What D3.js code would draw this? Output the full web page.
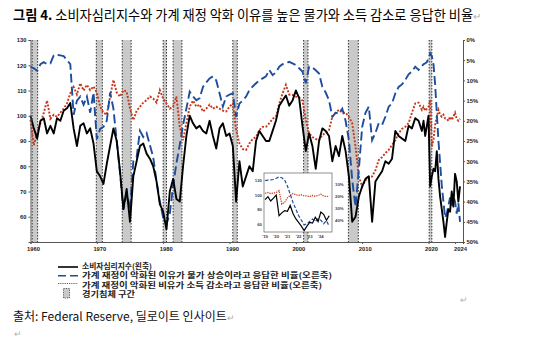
<!DOCTYPE html>
<html><head><meta charset="utf-8">
<script src="https://cdn.jsdelivr.net/npm/d3@7"></script>
<style>body{margin:0;background:#fff} svg{display:block}</style>
</head><body><svg id="c" width="557" height="340"></svg>
<script>
// ---- data ----
const dates = [
1960,1960.5,1961,1961.5,1962,1962.5,1963,1963.5,1964,1964.5,1965,1965.5,1966,1966.5,1967,1967.5,1968,1968.5,1969,1969.5,
1970,1970.5,1971,1971.5,1972,1972.5,1973,1973.5,1974,1974.5,1975,1975.5,1976,1976.5,1977,1977.5,1978,1978.5,1979,1979.5,
1980,1980.5,1981,1981.5,1982,1982.5,1983,1983.5,1984,1984.5,1985,1985.5,1986,1986.5,1987,1987.5,1988,1988.5,1989,1989.5,
1990,1990.5,1991,1991.5,1992,1992.5,1993,1993.5,1994,1994.5,1995,1995.5,1996,1996.5,1997,1997.5,1998,1998.5,1999,1999.5,
2000,2000.5,2001,2001.5,2002,2002.5,2003,2003.5,2004,2004.5,2005,2005.5,2006,2006.5,2007,2007.5,2008,2008.5,2009,2009.5,
2010,2010.5,2011,2011.5,2012,2012.5,2013,2013.5,2014,2014.5,2015,2015.5,2016,2016.5,2017,2017.5,2018,2018.5,
2019,2019.25,2019.5,2019.75,2020,2020.25,2020.5,2020.75,2021,2021.25,2021.5,2021.75,
2022,2022.25,2022.5,2022.75,2023,2023.25,2023.5,2023.75,2024,2024.25,2024.5,2024.75];
const sentiment = [
100,95,91,98,99,93,96,93,99,98,102,103,105,95,88,96,97,93,95,89,
78,76,73,81,88,95,90,78,63,71,58,76,82,88,89,85,83,80,74,65,
62,55,70,75,67,66,80,92,100,97,95,96,94,93,98,92,87,95,97,92,
93,88,66,82,72,76,80,78,90,94,92,90,90,94,98,104,106,108,104,106,
110,107,96,86,93,88,79,90,95,94,92,82,88,84,92,86,76,58,60,68,
72,75,76,58,74,76,78,82,81,83,94,92,91,90,96,95,99,98,
94,98,92,96,100,72,76,79,78,86,75,68,
63,58,52,58,63,62,70,64,77,74,66,72];
const pricesPct = [
6.6,7.0,7.6,6.0,5.5,6.0,5.8,3.8,3.7,3.8,4.0,5.0,6.0,18.5,15.0,14.0,16.0,14.0,18.0,13.0,
24.5,22.0,21.5,20.0,13.0,17.0,25.0,33.0,42.0,38.0,42.0,30.0,29.0,22.5,24.0,23.0,26.0,29.0,35.0,40.0,
44.0,45.5,43.0,36.0,30.5,26.0,21.0,17.0,12.8,14.0,14.9,14.4,11.6,10.5,9.5,9.0,10.0,13.2,16.5,14.0,
13.5,13.2,19.0,15.7,15.0,14.0,12.4,11.5,10.7,10.0,9.5,9.0,7.4,8.7,8.0,6.6,6.0,5.8,5.4,5.8,
6.2,7.0,7.8,10.7,6.6,6.8,7.5,8.3,11.6,13.0,14.9,19.0,18.0,18.2,17.0,20.0,24.8,34.7,41.3,32.0,
21.5,18.0,16.5,24.8,23.0,20.6,21.0,19.0,16.5,15.7,13.2,11.6,11.0,9.9,8.5,7.8,6.6,7.4,
6.5,6.0,5.8,5.5,4.5,3.3,4.0,6.0,11.0,18.0,25.0,30.5,
36.0,40.0,44.0,43.0,41.0,39.0,41.0,38.8,40.0,43.0,40.4,45.0];
const incomePct = [
19.8,26.0,23.0,20.6,18.0,15.0,19.5,18.5,19.0,18.0,17.0,15.7,13.2,11.6,13.5,10.7,12.5,11.1,12.4,11.5,
13.0,16.5,18.0,18.5,14.0,9.9,13.0,14.0,12.4,12.8,17.0,19.8,17.5,16.5,15.5,14.9,14.0,14.5,15.5,12.4,
14.5,15.7,17.0,16.5,14.0,21.5,24.8,20.6,16.5,15.0,16.5,16.0,17.7,17.0,16.0,17.0,16.5,17.0,17.5,17.7,
16.5,15.7,22.3,25.6,27.0,27.2,25.6,24.5,24.0,22.3,21.5,21.5,20.6,19.5,19.0,15.7,13.2,11.1,13.5,13.6,
14.0,14.2,15.0,19.8,23.1,24.0,24.5,24.8,23.5,23.0,22.3,19.0,18.0,17.3,18.0,18.0,19.0,20.6,26.4,33.8,
36.3,34.7,34.0,33.8,32.2,29.7,29.0,28.0,27.2,26.0,24.8,23.1,22.0,21.5,20.6,18.0,15.7,15.5,
17.3,16.5,17.5,17.0,16.5,14.9,26.4,24.8,21.0,19.0,17.3,18.5,
19.0,18.5,19.4,19.5,20.0,19.0,19.8,19.0,18.0,19.5,20.0,19.5];
const recessions = [[1960.25,1961.08],[1969.92,1970.83],[1973.83,1975.17],[1980.0,1980.5],[1981.5,1982.83],
  [1990.5,1991.17],[2001.17,2001.83],[2007.92,2009.42],[2020.1,2020.5]];
const leftTicks = [60,70,80,90,100,110,120,130];
const rightTicks = [0,5,10,15,20,25,30,35,40,45,50];
const yearTicks = [1960,1970,1980,1990,2000,2010,2020,2024];
const insetYears = [2019,2020,2021,2022,2023,2024];
const insetLeftTicks = [60,80,100,120];
const insetRightTicks = [10,20,30,40];
const titleBold = "그림 4.";
const titleRest = " 소비자심리지수와 가계 재정 악화 이유를 높은 물가와 소득 감소로 응답한 비율";
const legendLabels = ["소비자심리지수(왼축)",
  "가계 재정이 악화된 이유가 물가 상승이라고 응답한 비율(오른축)",
  "가계 재정이 악화된 비유가 소득 감소라고 응답한 비율(오른축)",
  "경기침체 구간"];
const legendWidths = [70, 250, 240, 53];
const sourceText = "출처: Federal Reserve, 딜로이트 인사이트";

// ---- drawing ----
const svg = d3.select("#c");
const BLACK="#000", BLUE="#1f4d9e", RED="#c8371a", BAND="#c9c9c9";
const rows = dates.map((t,i)=>({t, s:sentiment[i], p:pricesPct[i], r:incomePct[i]}));

const x = d3.scaleLinear().domain([1960, 2025.2]).range([30.5, 463]);
const yL = d3.scaleLinear().domain([50,130]).range([242,40]);
const yR = d3.scaleLinear().domain([0,50]).range([40,242]);

// title
const tt = svg.append("text").attr("x",13).attr("y",20).attr("font-family","'Noto Sans CJK KR'").attr("font-size",13.2).attr("fill","#000");
tt.append("tspan").attr("font-weight","bold").text(titleBold);
tt.append("tspan").text(titleRest);
tt.append("tspan").attr("fill","#b0b0b0").attr("font-size",10).text("↵");

// recession bands
const bands = svg.append("g");
recessions.forEach(([a,b])=>{
  const w = Math.max(2.5,x(b)-x(a));
  bands.append("rect").attr("x",x(a)).attr("y",yL(130)).attr("width",w).attr("height",yL(50)-yL(130)).attr("fill",BAND);
  [x(a), x(a)+w].forEach(xx=>{
    bands.append("line").attr("x1",xx).attr("x2",xx).attr("y1",yL(130)).attr("y2",yL(50))
      .attr("stroke","#333").attr("stroke-width",1).attr("stroke-dasharray","1.5,1.5");
  });
});

// lines
function drawLines(g, xs, yl, yr, w){
  g.append("path").datum(rows).attr("fill","none").attr("stroke",RED).attr("stroke-width",w)
    .attr("stroke-dasharray","2,1.6")
    .attr("d", d3.line().x(d=>xs(d.t)).y(d=>yr(d.r)));
  g.append("path").datum(rows).attr("fill","none").attr("stroke",BLUE).attr("stroke-width",w)
    .attr("stroke-dasharray","9,4")
    .attr("d", d3.line().x(d=>xs(d.t)).y(d=>yr(d.p)));
  g.append("path").datum(rows).attr("fill","none").attr("stroke",BLACK).attr("stroke-width",w)
    .attr("stroke-linejoin","round")
    .attr("d", d3.line().x(d=>xs(d.t)).y(d=>yl(d.s)));
}
drawLines(svg.append("g"), x, yL, yR, 1.9);

// axes
const tickFont = "'Liberation Sans', Arial, sans-serif";
const axL = svg.append("g").attr("transform","translate(30.5,0)").call(d3.axisLeft(yL).tickValues(leftTicks).tickSize(2).tickFormat(d3.format("d")));
const axR = svg.append("g").attr("transform","translate(463,0)").call(d3.axisRight(yR).tickValues(rightTicks).tickSize(2).tickFormat(d=>d+"%"));
const axB = svg.append("g").attr("transform","translate(0,242)").call(d3.axisBottom(x).tickValues(yearTicks).tickSize(2).tickFormat(d3.format("d")));
[axL,axR,axB].forEach(a=>{
  a.selectAll("path.domain").attr("stroke","#555").attr("stroke-width",1);
  a.selectAll(".tick line").attr("stroke","#555");
  a.selectAll("text").attr("font-family",tickFont).attr("font-weight","bold").attr("font-size",5.8).attr("fill","#222");
});
axL.selectAll("text").attr("x",-4);
axR.selectAll("text").attr("x",3.5);
axB.selectAll("text").attr("y",5).attr("dx",d=>d===2024?5:2.5);

// inset
const ix = d3.scaleLinear().domain([2018.9, 2025]).range([264, 332]);
const iyL = d3.scaleLinear().domain([50,130]).range([232,173]);
const iyR = d3.scaleLinear().domain([0,50]).range([173,232]);
svg.append("rect").attr("x",264).attr("y",173).attr("width",68).attr("height",59).attr("fill","#fff");
svg.append("clipPath").attr("id","ic").append("rect").attr("x",264).attr("y",173).attr("width",68).attr("height",59);
const ig = svg.append("g").attr("clip-path","url(#ic)");
const insetRows = rows.filter(d=>d.t>=2019);
ig.append("path").datum(insetRows).attr("fill","none").attr("stroke",RED).attr("stroke-width",1.2)
  .attr("stroke-dasharray","1.3,1").attr("d", d3.line().x(d=>ix(d.t)).y(d=>iyR(d.r)));
ig.append("path").datum(insetRows).attr("fill","none").attr("stroke",BLUE).attr("stroke-width",1.2)
  .attr("stroke-dasharray","3.5,1.8").attr("d", d3.line().x(d=>ix(d.t)).y(d=>iyR(d.p)));
ig.append("path").datum(insetRows).attr("fill","none").attr("stroke",BLACK).attr("stroke-width",1.2)
  .attr("d", d3.line().x(d=>ix(d.t)).y(d=>iyL(d.s)));
svg.append("rect").attr("x",264).attr("y",173).attr("width",68).attr("height",59).attr("fill","none").attr("stroke","#777").attr("stroke-width",0.8);
const iFont = 4.3;
insetLeftTicks.forEach(v=>svg.append("text").attr("x",262).attr("y",iyL(v)+1.5).attr("text-anchor","end")
  .attr("font-family",tickFont).attr("font-weight","bold").attr("font-size",iFont).attr("fill","#444").text(v));
insetRightTicks.forEach(v=>svg.append("text").attr("x",335).attr("y",iyR(v)+1.5)
  .attr("font-family",tickFont).attr("font-weight","bold").attr("font-size",iFont).attr("fill","#444").text(v+"%"));
insetYears.forEach(v=>svg.append("text").attr("x",ix(v)).attr("y",238).attr("text-anchor","middle")
  .attr("font-family",tickFont).attr("font-weight","bold").attr("font-size",iFont).attr("fill","#444").text("'"+String(v).slice(2)));

// legend
const lg = svg.append("g");
const ly = [266.5, 275.5, 285, 294];
const lFont = "'Noto Sans CJK KR'";
lg.append("line").attr("x1",58).attr("x2",78).attr("y1",267).attr("y2",267).attr("stroke",BLACK).attr("stroke-width",1.6);
lg.append("line").attr("x1",58).attr("x2",78).attr("y1",275.7).attr("y2",275.7).attr("stroke",BLUE).attr("stroke-width",1.6).attr("stroke-dasharray","8,4");
lg.append("line").attr("x1",58).attr("x2",78).attr("y1",283.5).attr("y2",283.5).attr("stroke",RED).attr("stroke-width",1.1).attr("stroke-dasharray","1.2,1");
lg.append("rect").attr("x",63.5).attr("y",288.5).attr("width",6).attr("height",9.5).attr("fill",BAND).attr("stroke","#333").attr("stroke-width",0.8).attr("stroke-dasharray","1.2,1.2");
legendLabels.forEach((s,i)=>lg.append("text").attr("x",82).attr("y",ly[i]+2.8).attr("font-family",lFont).attr("font-weight","bold")
  .attr("font-size",7.6).attr("textLength",legendWidths[i]).attr("lengthAdjust","spacingAndGlyphs").attr("fill","#222").text(s));
svg.append("text").attr("x",460).attr("y",303).attr("font-size",9).attr("fill","#b0b0b0").text("↵");

// source
const st = svg.append("text").attr("x",13).attr("y",321).attr("font-family","'Noto Sans CJK KR'").attr("font-size",12).attr("fill","#111");
st.append("tspan").text(sourceText);
st.append("tspan").attr("fill","#b0b0b0").attr("font-size",9).text("↵");
svg.append("text").attr("x",14).attr("y",337).attr("font-size",9).attr("fill","#b0b0b0").text("↵");
</script></body></html>
